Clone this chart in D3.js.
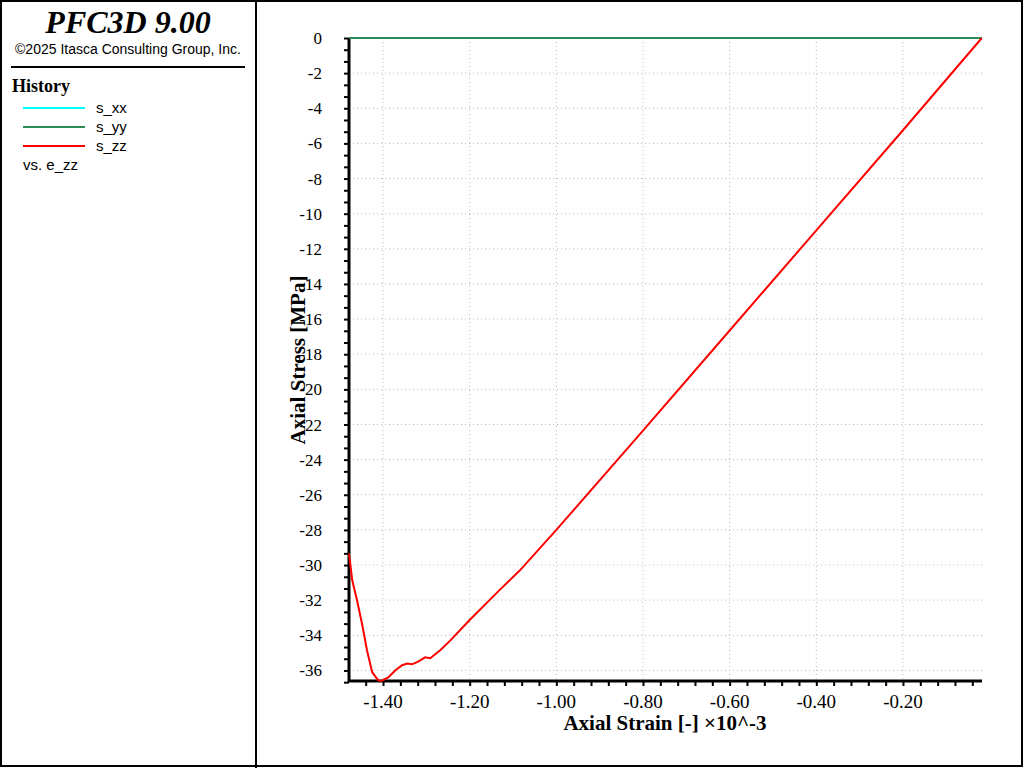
<!DOCTYPE html>
<html><head><meta charset="utf-8">
<script src="https://cdn.jsdelivr.net/npm/d3@7"></script>
<style>body{margin:0;background:#fff}</style>
</head><body>
<svg id="c" width="1024" height="768"></svg>
<script>
// s_zz vs e_zz (strain in 1e-3, stress in MPa)
var strain = [-0.018, -0.20, -0.40, -0.60, -0.80, -1.00, -1.084, -1.130, -1.199, -1.245, -1.268, -1.291, -1.303, -1.319, -1.333, -1.344, -1.356, -1.372, -1.388, -1.404, -1.411, -1.425, -1.437, -1.448, -1.460, -1.471, -1.4785];
var szz = [0, -5.25, -10.95, -16.65, -22.35, -28.0, -30.3, -31.4, -33.1, -34.3, -34.85, -35.3, -35.25, -35.5, -35.65, -35.6, -35.7, -36.0, -36.4, -36.6, -36.56, -36.1, -34.85, -33.4, -32.0, -30.87, -29.33];
var sxx = [0, 0];
var syy = [0, 0];
var ends = [-0.018, -1.4785];
var xTicks = [-1.40, -1.20, -1.00, -0.80, -0.60, -0.40, -0.20];
var yTicks = d3.range(0, -37, -2);
var legend = [['s_xx', '#00ffff'], ['s_yy', '#2e8b57'], ['s_zz', '#ff0000']];

var svg = d3.select('#c');
svg.append('rect').attr('x', 1).attr('y', 1).attr('width', 1021).attr('height', 765).attr('fill', 'none').attr('stroke', '#000').attr('stroke-width', 2);
svg.append('line').attr('x1', 256).attr('x2', 256).attr('y1', 0).attr('y2', 768).attr('stroke', '#000').attr('stroke-width', 2);

// left panel
svg.append('text').attr('x', 128).attr('y', 33).attr('text-anchor', 'middle')
  .style('font', 'italic bold 32px "Liberation Serif"').text('PFC3D 9.00');
svg.append('text').attr('x', 128).attr('y', 54).attr('text-anchor', 'middle')
  .style('font', '14px "Liberation Sans"').text('\u00a92025 Itasca Consulting Group, Inc.');
svg.append('line').attr('x1', 11).attr('x2', 245).attr('y1', 67).attr('y2', 67).attr('stroke', '#000').attr('stroke-width', 2);
svg.append('text').attr('x', 12).attr('y', 92).style('font', 'bold 18px "Liberation Serif"').text('History');
legend.forEach(function(d, i) {
  var y = 108 + i * 19;
  svg.append('line').attr('x1', 23).attr('x2', 85).attr('y1', y).attr('y2', y).attr('stroke', d[1]).attr('stroke-width', 2);
  svg.append('text').attr('x', 96).attr('y', y + 5).style('font', '15px "Liberation Sans"').text(d[0]);
});
svg.append('text').attr('x', 23).attr('y', 170).style('font', '15px "Liberation Sans"').text('vs. e_zz');

// plot
var x = d3.scaleLinear().domain([-1.4785, -0.0176]).range([349, 982]);
var y = d3.scaleLinear().domain([0, -36.6]).range([38, 681]);

var g = svg.append('g');
xTicks.forEach(function(t) {
  g.append('line').attr('x1', x(t)).attr('x2', x(t)).attr('y1', 38).attr('y2', 681)
    .attr('stroke', '#bbb').attr('stroke-dasharray', '1,3');
});
yTicks.forEach(function(t) {
  g.append('line').attr('x1', 349).attr('x2', 982).attr('y1', y(t)).attr('y2', y(t))
    .attr('stroke', '#bbb').attr('stroke-dasharray', '1,3');
});

var xAxis = d3.axisBottom(x).tickValues(d3.range(-1.44, -0.01, 0.04)).tickSize(5).tickFormat('');
g.append('g').attr('transform', 'translate(0,681)').call(xAxis);
var yAxis = d3.axisLeft(y).tickValues(d3.range(0, -36.7, -2 / 3)).tickSize(5).tickFormat('');
g.append('g').attr('transform', 'translate(349,0)').call(yAxis);
g.selectAll('.domain').remove();
g.selectAll('.tick line').attr('stroke', '#000').attr('stroke-width', 2);

g.append('line').attr('x1', 349).attr('x2', 349).attr('y1', 38).attr('y2', 682).attr('stroke', '#000').attr('stroke-width', 3);
g.append('line').attr('x1', 348).attr('x2', 982).attr('y1', 681).attr('y2', 681).attr('stroke', '#000').attr('stroke-width', 3);

xTicks.forEach(function(t) {
  g.append('text').attr('x', x(t)).attr('y', 708).attr('text-anchor', 'middle')
    .style('font', '19px "Liberation Serif"').text(t.toFixed(2));
});
yTicks.forEach(function(t) {
  g.append('text').attr('x', 322).attr('y', y(t) + 6).attr('text-anchor', 'end')
    .style('font', '17px "Liberation Serif"').text(t);
});
g.append('text').attr('x', 665).attr('y', 730).attr('text-anchor', 'middle')
  .style('font', 'bold 21px "Liberation Serif"').text('Axial Strain [-] \u00d710^-3');
g.append('text').attr('transform', 'translate(305,360) rotate(-90)').attr('text-anchor', 'middle')
  .style('font', 'bold 21px "Liberation Serif"').text('Axial Stress [MPa]');

var line = d3.line().x(function(d) { return x(d[0]); }).y(function(d) { return y(d[1]); });
g.append('path').attr('d', line(d3.zip(ends, sxx))).attr('fill', 'none').attr('stroke', '#00ffff').attr('stroke-width', 2);
g.append('path').attr('d', line(d3.zip(ends, syy))).attr('fill', 'none').attr('stroke', '#2e8b57').attr('stroke-width', 2);
g.append('path').attr('d', line(d3.zip(strain, szz))).attr('fill', 'none').attr('stroke', '#ff0000').attr('stroke-width', 2);
</script>
</body></html>
